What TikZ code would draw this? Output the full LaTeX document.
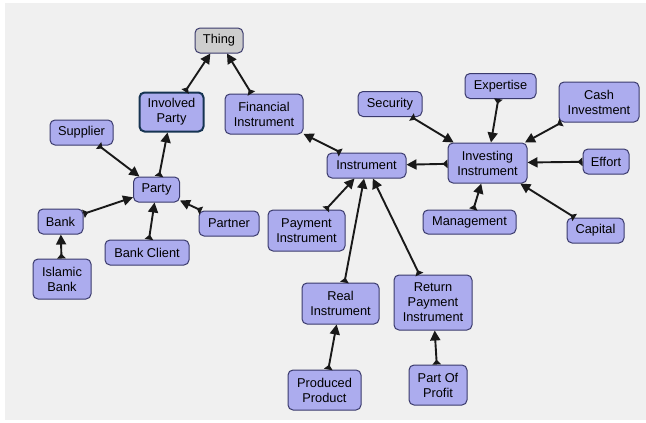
\documentclass[tikz,border=0pt]{standalone}
\usepackage{fontspec}
\setmainfont{Liberation Sans}
\usetikzlibrary{arrows.meta}
\definecolor{bg}{RGB}{240,240,240}
\definecolor{boxfill}{RGB}{172,172,238}
\definecolor{boxdraw}{RGB}{58,58,108}
\definecolor{thingfill}{RGB}{205,205,205}
\definecolor{ipdraw}{RGB}{22,52,82}
\definecolor{arr}{RGB}{25,25,25}
\tikzset{
  cbox/.style={draw=boxdraw, line width=1pt, fill=boxfill, rounded corners=5pt,
    align=center, inner sep=1pt, font=\fontsize{12.8}{15}\selectfont, text=black},
  thingbox/.style={cbox, fill=thingfill},
  ipbox/.style={cbox, draw=ipdraw, line width=2pt},
  link/.style={draw=arr, line width=1.9pt,
    {Triangle[reversed,length=5pt,width=8.5pt]}-{Triangle[length=10pt,width=10pt]}}
}
\begin{document}
\begin{tikzpicture}[x=1pt,y=-1pt]
\useasboundingbox (0,0) rectangle (646,423);
\fill[bg] (5,3) rectangle (646,420);
% nodes
\node[thingbox, minimum width=48pt, minimum height=25pt] (thing) at (219,40.5) {Thing};
\node[ipbox, minimum width=64pt, minimum height=39pt] (ip) at (171.5,112) {Involved\\Party};
\node[cbox, minimum width=78pt, minimum height=40pt] (fi) at (264,114) {Financial\\Instrument};
\node[cbox, minimum width=63pt, minimum height=25pt] (supplier) at (81.5,132.5) {Supplier};
\node[cbox, minimum width=46pt, minimum height=25pt] (party) at (156.5,189.5) {Party};
\node[cbox, minimum width=45pt, minimum height=25pt] (bank) at (60.5,221.5) {Bank};
\node[cbox, minimum width=84pt, minimum height=25pt] (bankclient) at (147,252.5) {Bank Client};
\node[cbox, minimum width=60pt, minimum height=25pt] (partner) at (229,223.5) {Partner};
\node[cbox, minimum width=58pt, minimum height=40pt] (islamic) at (62,279) {Islamic\\Bank};
\node[cbox, minimum width=79pt, minimum height=25pt] (instr) at (366.5,165.5) {Instrument};
\node[cbox, minimum width=77pt, minimum height=41pt] (payment) at (306.5,230.5) {Payment\\Instrument};
\node[cbox, minimum width=64pt, minimum height=25pt] (security) at (390,104) {Security};
\node[cbox, minimum width=71pt, minimum height=25pt] (expertise) at (500.5,86) {Expertise};
\node[cbox, minimum width=80pt, minimum height=40pt] (cash) at (599,102) {Cash\\Investment};
\node[cbox, minimum width=79pt, minimum height=40pt] (investing) at (487.5,163) {Investing\\Instrument};
\node[cbox, minimum width=46pt, minimum height=25pt] (effort) at (606,161.5) {Effort};
\node[cbox, minimum width=93pt, minimum height=24pt] (management) at (469.5,222) {Management};
\node[cbox, minimum width=57pt, minimum height=25pt] (capital) at (595.5,230.5) {Capital};
\node[cbox, minimum width=77pt, minimum height=41pt] (real) at (340.5,303.5) {Real\\Instrument};
\node[cbox, minimum width=78pt, minimum height=55pt] (returnpay) at (433,302.5) {Return\\Payment\\Instrument};
\node[cbox, minimum width=73pt, minimum height=40pt] (produced) at (324.5,390) {Produced\\Product};
\node[cbox, minimum width=58pt, minimum height=40pt] (profit) at (438,385) {Part Of\\Profit};
% links (child -> parent)
\draw[link] (ip) -- (thing);
\draw[link] (fi) -- (thing);
\draw[link] (party) -- (ip);
\draw[link] (supplier) -- (party);
\draw[link] (bank) -- (party);
\draw[link] (bankclient) -- (party);
\draw[link] (partner) -- (party);
\draw[link] (islamic) -- (bank);
\draw[link] (instr) -- (fi);
\draw[link] (payment) -- (instr);
\draw[link] (real) -- (instr);
\draw[link] (returnpay) -- (instr);
\draw[link] (investing) -- (instr);
\draw[link] (security) -- (investing);
\draw[link] (expertise) -- (investing);
\draw[link] (cash) -- (investing);
\draw[link] (effort) -- (investing);
\draw[link] (management) -- (investing);
\draw[link] (capital) -- (investing);
\draw[link] (produced) -- (real);
\draw[link] (profit) -- (returnpay);
\end{tikzpicture}
\end{document}
